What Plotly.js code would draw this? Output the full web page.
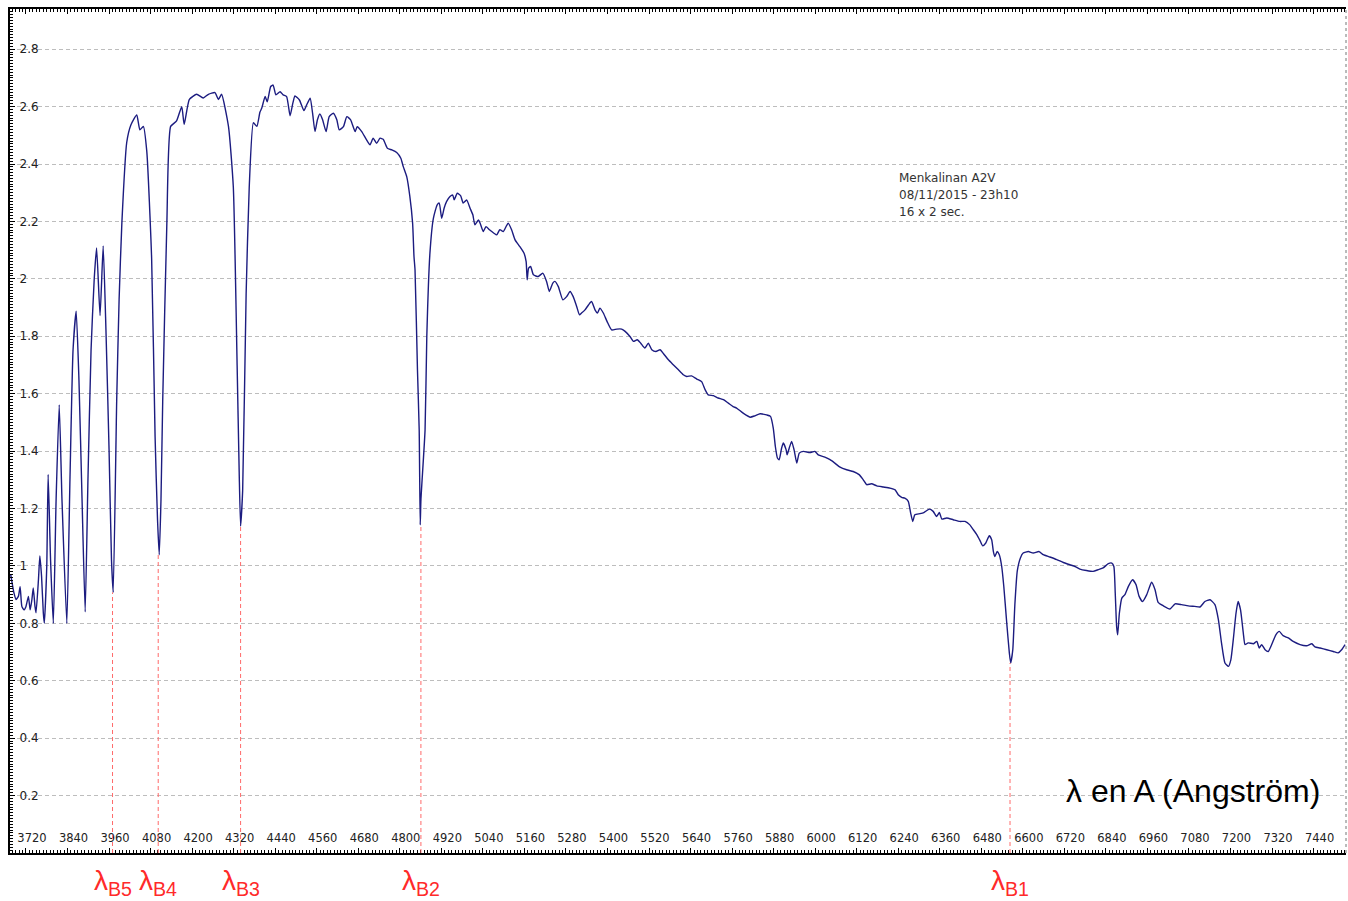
<!DOCTYPE html>
<html>
<head>
<meta charset="utf-8">
<script src="https://cdn.plot.ly/plotly-3.0.1.min.js"></script>
<style>html,body{margin:0;padding:0;background:#fff;}#chart{width:1348px;height:901px;}</style>
</head>
<body>
<div id="chart"></div>
<script>
// Wavelength (Angstrom) and relative flux
const wavelength = [3676,3685,3691,3698,3703,3708,3714,3720,3727,3732,3737,3741,3746,3749,3756,3760,3765,3770,3773,3780,3784,3791,3799,3807,3816,3824,3838,3847,3856,3865,3873,3882,3891,3899,3908,3917,3924,3934,3943,3951,3960,3967,3972,3982,3989,3997,4011,4023,4040,4049,4059,4069,4083,4093,4100,4105,4110,4115,4127,4138,4155,4170,4177,4192,4213,4232,4247,4266,4276,4285,4305,4319,4330,4336,4340,4346,4356,4365,4377,4387,4396,4401,4411,4417,4427,4434,4442,4454,4463,4473,4483,4491,4497,4510,4523,4531,4541,4548,4555,4562,4569,4577,4587,4596,4608,4618,4625,4637,4647,4658,4671,4677,4690,4704,4714,4723,4733,4743,4752,4764,4777,4791,4803,4810,4820,4829,4837,4841,4844,4851,4856,4859,4861,4873,4878,4887,4897,4908,4914,4921,4928,4935,4945,4953,4957,4966,4976,4983,4993,5003,5011,5017,5027,5032,5041,5049,5059,5072,5080,5089,5099,5107,5113,5123,5133,5147,5159,5165,5168,5172,5178,5186,5200,5213,5224,5232,5242,5248,5258,5271,5282,5292,5301,5311,5319,5325,5335,5345,5354,5364,5371,5378,5388,5399,5412,5427,5441,5451,5465,5475,5486,5496,5508,5518,5528,5540,5552,5561,5576,5590,5605,5619,5629,5643,5658,5672,5682,5691,5706,5720,5735,5749,5763,5773,5792,5812,5826,5841,5860,5871,5879,5885,5891,5896,5903,5908,5916,5919,5925,5932,5939,5947,5954,5966,5985,5999,6009,6028,6043,6057,6072,6091,6110,6127,6139,6149,6163,6178,6197,6216,6231,6240,6250,6259,6269,6276,6282,6288,6303,6314,6330,6341,6351,6359,6366,6380,6399,6418,6433,6447,6457,6467,6476,6484,6493,6503,6510,6515,6519,6526,6532,6539,6545,6553,6561,6565,6571,6577,6584,6593,6601,6616,6630,6647,6659,6678,6698,6717,6736,6751,6765,6784,6803,6818,6832,6847,6857,6863,6867,6871,6874,6879,6886,6895,6905,6917,6927,6936,6946,6958,6972,6982,6991,7006,7025,7040,7059,7078,7097,7112,7126,7141,7155,7165,7174,7184,7194,7201,7208,7216,7222,7229,7237,7242,7251,7266,7276,7283,7290,7300,7309,7319,7331,7341,7352,7367,7381,7401,7420,7435,7444,7459,7478,7497,7511,7521,7531];
const flux = [0.969,0.907,0.883,0.894,0.928,0.859,0.847,0.859,0.894,0.847,0.882,0.923,0.859,0.837,0.952,1.035,0.963,0.837,0.800,0.998,1.319,1.020,0.800,1.230,1.561,1.230,0.800,1.300,1.753,1.887,1.648,1.230,0.840,1.300,1.753,1.997,2.108,1.872,2.115,1.822,1.405,1.022,0.908,1.574,1.927,2.195,2.475,2.536,2.571,2.519,2.531,2.444,2.071,1.450,1.161,1.039,1.230,1.574,2.195,2.531,2.550,2.600,2.538,2.625,2.643,2.630,2.643,2.649,2.625,2.643,2.531,2.320,1.698,1.325,1.139,1.263,1.948,2.320,2.544,2.531,2.581,2.594,2.635,2.617,2.670,2.675,2.641,2.652,2.641,2.635,2.568,2.612,2.637,2.623,2.586,2.606,2.629,2.577,2.513,2.554,2.574,2.554,2.513,2.565,2.577,2.554,2.519,2.530,2.565,2.554,2.513,2.530,2.513,2.484,2.467,2.490,2.472,2.490,2.486,2.455,2.449,2.440,2.420,2.391,2.356,2.287,2.194,2.078,2.031,1.683,1.474,1.143,1.230,1.474,1.799,2.089,2.211,2.258,2.264,2.211,2.246,2.269,2.287,2.292,2.275,2.298,2.289,2.264,2.275,2.246,2.223,2.188,2.205,2.194,2.165,2.182,2.171,2.159,2.153,2.171,2.165,2.182,2.194,2.171,2.136,2.112,2.089,2.060,1.997,2.037,2.043,2.014,2.008,2.020,1.991,1.956,1.985,1.991,1.973,1.927,1.938,1.956,1.938,1.904,1.875,1.881,1.892,1.909,1.921,1.892,1.881,1.898,1.881,1.851,1.822,1.825,1.825,1.817,1.799,1.782,1.788,1.776,1.759,1.776,1.753,1.747,1.753,1.741,1.718,1.701,1.683,1.666,1.660,1.662,1.651,1.642,1.614,1.596,1.593,1.585,1.579,1.567,1.555,1.550,1.532,1.518,1.523,1.530,1.526,1.521,1.480,1.416,1.376,1.370,1.410,1.428,1.405,1.387,1.410,1.434,1.405,1.358,1.393,1.399,1.395,1.399,1.387,1.379,1.370,1.358,1.344,1.335,1.329,1.318,1.300,1.283,1.286,1.279,1.275,1.271,1.265,1.248,1.239,1.236,1.225,1.184,1.155,1.178,1.182,1.186,1.198,1.190,1.172,1.186,1.163,1.167,1.161,1.155,1.155,1.143,1.126,1.109,1.089,1.070,1.080,1.105,1.091,1.050,1.033,1.050,1.039,0.998,0.929,0.809,0.697,0.662,0.708,0.865,0.983,1.028,1.045,1.050,1.045,1.050,1.039,1.031,1.022,1.012,1.004,0.998,0.989,0.984,0.981,0.987,0.993,1.008,1.010,0.998,0.906,0.789,0.760,0.836,0.888,0.900,0.929,0.952,0.935,0.894,0.876,0.900,0.943,0.917,0.873,0.861,0.850,0.868,0.865,0.861,0.859,0.857,0.876,0.882,0.865,0.813,0.732,0.662,0.650,0.673,0.743,0.836,0.876,0.847,0.766,0.726,0.732,0.729,0.737,0.714,0.726,0.708,0.702,0.726,0.760,0.772,0.757,0.749,0.737,0.726,0.722,0.729,0.718,0.714,0.708,0.702,0.697,0.708,0.726];

// Balmer lines marked on the chart
const balmerNames = ['B1','B2','B3','B4','B5'];
const balmerWavelength = [6563, 4861, 4340, 4102, 3970];
const balmerDepth = [0.662, 1.143, 1.139, 1.039, 0.908];

// Axis ticks
const yTicks = [0.2,0.4,0.6,0.8,1.0,1.2,1.4,1.6,1.8,2.0,2.2,2.4,2.6,2.8];

// Texts
const infoLines = ['Menkalinan A2V', '08/11/2015 - 23h10', '16 x 2 sec.'];
const axisNote = 'λ en A (Angström)';

const X_RANGE = [3673.8, 7533.7];
const Y_RANGE = [0, 2.94];

const trace = {
  x: wavelength, y: flux, type: 'scatter', mode: 'lines',
  line: {color: '#1c1c80', width: 1.4, shape: 'spline', smoothing: 0.5}, hoverinfo: 'skip'
};

const shapes = [];
balmerWavelength.forEach((w, i) => {
  shapes.push({type: 'line', xref: 'x', yref: 'y', x0: w, x1: w, y0: 0, y1: balmerDepth[i],
    line: {color: '#ff6a6a', width: 1, dash: '4px,3px'}});
});
// white strip behind y tick labels (gridlines start after the labels)
shapes.push({type: 'rect', xref: 'paper', yref: 'paper', x0: 0.001, x1: 0.025, y0: 0.03, y1: 0.995,
  fillcolor: '#ffffff', line: {width: 0}, layer: 'between'});
// dotted right border
shapes.push({type: 'line', xref: 'paper', yref: 'paper', x0: 1, x1: 1, y0: 0, y1: 1,
  line: {color: '#777', width: 1, dash: 'dot'}});

const annotations = [];
balmerWavelength.forEach((w, i) => {
  annotations.push({x: w, xref: 'x', y: -0.012, yref: 'paper', yanchor: 'top', xanchor: 'center',
    showarrow: false, text: 'λ<sub>' + balmerNames[i] + '</sub>',
    font: {family: 'Liberation Sans, Arial, sans-serif', size: 28, color: '#ff2a2a'}});
});
const infoY = [0.7998, 0.7796, 0.7595];
infoLines.forEach((t, i) => {
  annotations.push({x: 0.664, xref: 'paper', y: infoY[i], yref: 'paper', xanchor: 'left', yanchor: 'middle',
    showarrow: false, text: t, font: {family: 'DejaVu Sans, sans-serif', size: 12, color: '#333'}});
});
annotations.push({x: 0.982, xref: 'paper', y: 0.0735, yref: 'paper', xanchor: 'right', yanchor: 'middle',
  showarrow: false, text: axisNote, font: {family: 'Liberation Sans, Arial, sans-serif', size: 32, color: '#000'}});

const xTickFont = {family: 'DejaVu Sans, sans-serif', size: 11.5, color: '#222'};
const yTickFont = {family: 'DejaVu Sans, sans-serif', size: 12, color: '#222'};

const layout = {
  width: 1348, height: 901,
  margin: {l: 10, r: 2, t: 9, b: 48, pad: 0},
  paper_bgcolor: '#ffffff', plot_bgcolor: '#ffffff',
  showlegend: false,
  xaxis: {
    range: X_RANGE, showgrid: false, zeroline: false,
    showline: true, linecolor: '#000', linewidth: 2, mirror: 'ticks',
    ticks: 'inside', ticklen: 5, tickcolor: '#000', tickwidth: 1,
    tickmode: 'linear', tick0: 0, dtick: 120,
    ticklabelposition: 'inside', ticklabeloverflow: 'allow', ticklabelshift: 6, ticklabelstandoff: 3,
    tickfont: xTickFont,
    minor: {ticks: 'inside', ticklen: 3, tickcolor: '#000', tickmode: 'linear', tick0: 0, dtick: 10, showgrid: false}
  },
  yaxis: {
    range: Y_RANGE, showgrid: true, gridcolor: '#bdbdbd', gridwidth: 1, griddash: '4px,3px', zeroline: false,
    showline: true, linecolor: '#000', linewidth: 2, mirror: false,
    ticks: 'inside', ticklen: 5, tickcolor: '#000', tickwidth: 1,
    tickmode: 'array', tickvals: yTicks,
    ticklabelposition: 'inside', ticklabeloverflow: 'allow', ticklabelstandoff: 4, tickfont: yTickFont,
    minor: {ticks: 'inside', ticklen: 3, tickcolor: '#000', tickmode: 'linear', tick0: 0, dtick: 0.01, showgrid: false}
  },
  yaxis2: {
    range: Y_RANGE, overlaying: 'y', side: 'right', anchor: 'x',
    showgrid: false, zeroline: false, showline: false, showticklabels: false,
    ticks: 'inside', ticklen: 4, tickcolor: '#333', tickmode: 'array', tickvals: yTicks
  },
  shapes: shapes,
  annotations: annotations
};

Plotly.newPlot('chart', [trace], layout, {displayModeBar: false, staticPlot: true});
</script>
</body>
</html>
